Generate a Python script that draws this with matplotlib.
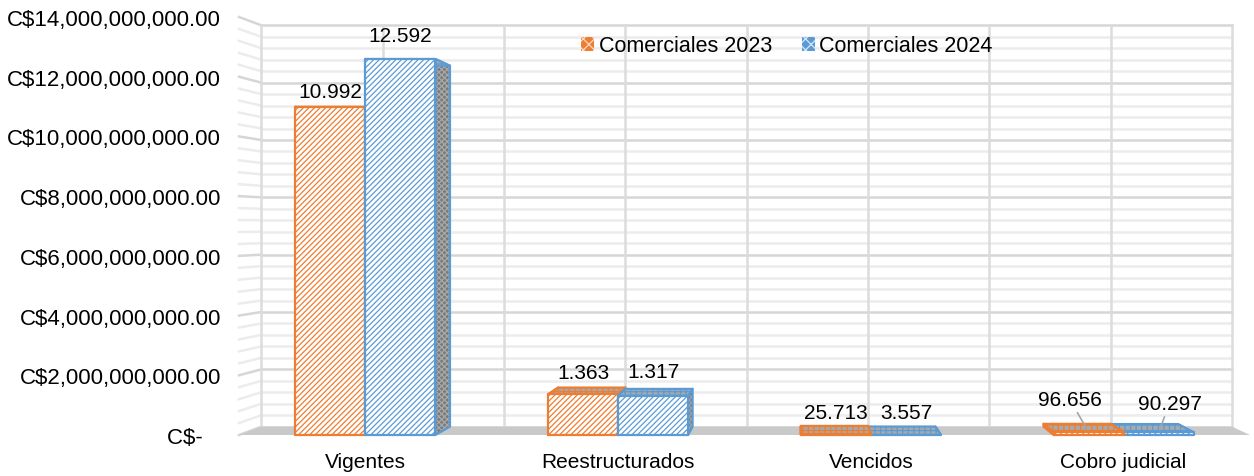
import numpy as np
import matplotlib
matplotlib.use("Agg")
import matplotlib.pyplot as plt
from matplotlib.patches import Polygon, Patch
from matplotlib.ticker import FuncFormatter

# data (C$)
categories = ["Vigentes", "Reestructurados", "Vencidos", "Cobro judicial"]
series_names = ["Comerciales 2023", "Comerciales 2024"]
values_2023 = [10.992e9, 1.363e9, 25.713e6, 96.656e6]
values_2024 = [12.592e9, 1.317e9, 3.557e6, 90.297e6]
labels_2023 = ["10.992", "1.363", "25.713", "96.656"]
labels_2024 = ["12.592", "1.317", "3.557", "90.297"]

colors = ["#ED7D31", "#5B9BD5"]

# fake 3d view: back plane is the front plane pulled toward a vanishing point
VPX, VPY, T = 1.72, 7.0e9, 0.04
BAR_W = 0.277


def back(x, y):
    return x + (VPX - x) * T, y + (VPY - y) * T


plt.rcParams["font.family"] = ["Liberation Sans", "DejaVu Sans"]
plt.rcParams["hatch.linewidth"] = 0.9

fig = plt.figure(figsize=(12.54, 4.77), dpi=100)
ax = fig.add_axes([239 / 1254, 41 / 477, 1011 / 1254, 418 / 477])
ax.set_xlim(-0.5, 3.5)
ax.set_ylim(0, 14e9)
for s in ax.spines.values():
    s.set_visible(False)

# walls + grid
for y in np.arange(0, 14e9 + 1, 0.4e9):
    major = abs(y / 2e9 - round(y / 2e9)) < 1e-6
    col = "#d6d6d6" if major else "#ececec"
    x0, yb = back(-0.5, y)
    x1, _ = back(3.5, y)
    ax.plot([x0, x1], [yb, yb], color=col, lw=1.8, zorder=0, clip_on=False)
    ax.plot([-0.5, x0], [y, yb], color=col, lw=1.8, zorder=0, clip_on=False)
for x in np.arange(-0.5, 3.51, 0.5):
    xb, y0 = back(x, 0)
    _, y1 = back(x, 14e9)
    ax.plot([xb, xb], [y0, y1], color="#dcdcdc", lw=1.8, zorder=0, clip_on=False)

# floor
floor = [(-0.5, 0), (3.5, 0), back(3.5, 0), back(-0.5, 0)]
ax.add_patch(Polygon(floor, closed=True, facecolor="#c9c9c9", edgecolor="none",
                     zorder=1, clip_on=False))


def face(pts, fc, hc, hatch, ec, z):
    ax.add_patch(Polygon(pts, closed=True, facecolor=fc, edgecolor=hc, hatch=hatch,
                         lw=0, zorder=z, clip_on=False))
    ax.add_patch(Polygon(pts, closed=True, fill=False, edgecolor=ec, lw=1.6,
                         zorder=z + 0.01, clip_on=False, joinstyle="round"))


bars = []
for i in range(len(categories)):
    bars.append((i - BAR_W, i, values_2023[i], colors[0]))
    bars.append((i, i + BAR_W, values_2024[i], colors[1]))
# farther from vanishing point drawn first
bars.sort(key=lambda b: -abs((b[0] + b[1]) / 2 - VPX))

z = 2
for x0, x1, h, c in bars:
    for xs in (x0, x1):
        side = [(xs, 0), (xs, h), back(xs, h), back(xs, 0)]
        face(side, "#7a7a7a", "#a8a8a8", "xxxxxx", c, z)
    top = [(x0, h), (x1, h), back(x1, h), back(x0, h)]
    face(top, "#a9a9a9", c, "+++", c, z + 0.1)
    front = [(x0, 0), (x1, 0), (x1, h), (x0, h)]
    face(front, "white", c, "//////", c, z + 0.2)
    z += 1

# data labels (offsets in px: dx, dy)
offsets_2023 = [(0, 15), (0, 22), (0, 22), (-19, 33)]
offsets_2024 = [(0, 24), (0, 24), (0, 22), (11, 29)]
for i in range(len(categories)):
    for vals, labs, offs, xc in ((values_2023, labels_2023, offsets_2023, i - BAR_W / 2),
                                 (values_2024, labels_2024, offsets_2024, i + BAR_W / 2)):
        dx, dy = offs[i]
        arrow = None
        if dx != 0:
            arrow = dict(arrowstyle="-", color="#a6a6a6", lw=1.2, shrinkA=1, shrinkB=2)
        ax.annotate(labs[i], xy=(xc, vals[i]), xytext=(dx * 0.72, dy * 0.72),
                    textcoords="offset points", ha="center", va="center",
                    fontsize=15, color="black", zorder=50, arrowprops=arrow,
                    annotation_clip=False)

# axes text
ax.yaxis.set_major_formatter(FuncFormatter(
    lambda v, p: "C$-   " if v == 0 else "C${:,.2f}".format(v)))
ax.set_yticks(np.arange(0, 14e9 + 1, 2e9))
ax.set_xticks(range(len(categories)))
ax.set_xticklabels(categories)
ax.tick_params(axis="y", length=0, pad=13, labelsize=16)
ax.tick_params(axis="x", length=0, pad=12, labelsize=15)

handles = [Patch(facecolor=colors[k], edgecolor="#fbd9c2" if k == 0 else "#d7e6f4",
                 hatch="xxx", lw=0, label=series_names[k]) for k in range(2)]
fig.legend(handles=handles, loc="center", bbox_to_anchor=(787 / 1254, 1 - 47 / 477),
           ncol=2, frameon=False, fontsize=15.5, handlelength=0.6, handleheight=0.6,
           handletextpad=0.2, columnspacing=1.4)

fig.savefig("out.png", dpi=100)
